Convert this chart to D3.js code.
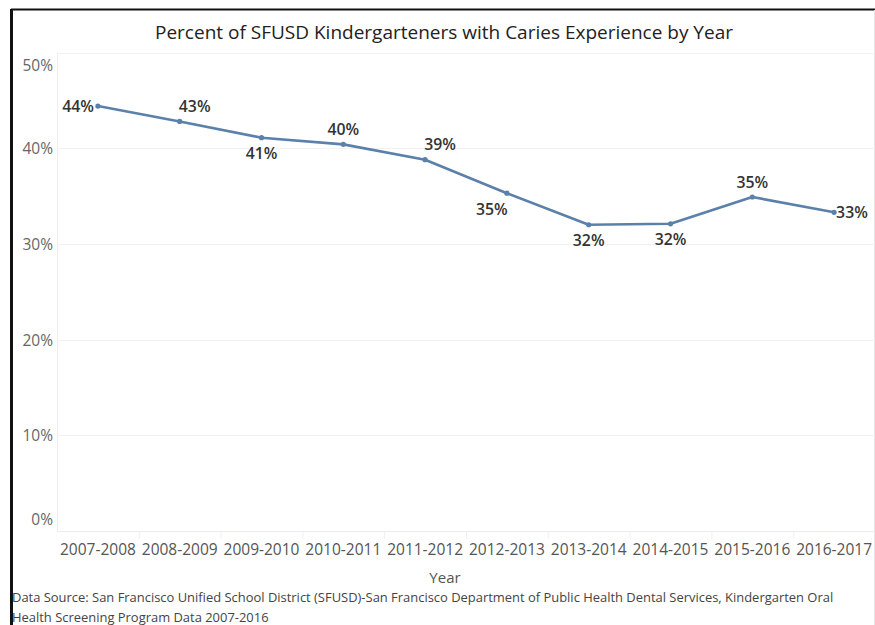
<!DOCTYPE html>
<html>
<head>
<meta charset="utf-8">
<script src="https://cdn.jsdelivr.net/npm/d3@7"></script>
<style>
  html, body { margin: 0; padding: 0; background: #fff; }
  svg { display: block; font-family: "Open Sans", "Noto Sans", sans-serif; }
</style>
</head>
<body>
<svg id="chart" width="875" height="625"></svg>
<script>
// data
const years = ['2007-2008', '2008-2009', '2009-2010', '2010-2011', '2011-2012',
               '2012-2013', '2013-2014', '2014-2015', '2015-2016', '2016-2017'];
const pct = [0.444, 0.428, 0.411, 0.404, 0.388, 0.353, 0.320, 0.321, 0.349, 0.333];
const labelPos = ['left', 'aboveRight', 'below', 'above', 'aboveRight',
                  'belowLeft', 'below', 'below', 'above', 'right'];
const yTicks = [0, 0.1, 0.2, 0.3, 0.4, 0.5];

const titleText = 'Percent of SFUSD Kindergarteners with Caries Experience by Year';
const sourceLines = [
  'Data Source: San Francisco Unified School District (SFUSD)-San Francisco Department of Public Health Dental Services, Kindergarten Oral',
  'Health Screening Program Data 2007-2016'
];

const svg = d3.select('#chart');
const W = 875, H = 625;
const plot = { left: 57, right: 875, top: 52.5, bottom: 531 };

const x = d3.scaleBand().domain(years).range([plot.left, plot.right]).padding(0);
const y = d3.scaleLinear().domain([0, 0.5]).range([plot.bottom, plot.top]);
const cx = d => x(d) + x.bandwidth() / 2;
const fmt = d3.format('.0%');

// frame
svg.append('line').attr('x1', 11).attr('x2', W).attr('y1', 9.5).attr('y2', 9.5)
  .attr('stroke', '#111').attr('stroke-width', 2);
svg.append('line').attr('x1', 11.5).attr('x2', 11.5).attr('y1', 9).attr('y2', H)
  .attr('stroke', '#111').attr('stroke-width', 3);
svg.append('line').attr('x1', 874.5).attr('x2', 874.5).attr('y1', 10).attr('y2', H)
  .attr('stroke', '#e6e6e6').attr('stroke-width', 1);

// title
svg.append('text')
  .attr('x', 444).attr('y', 38.5)
  .attr('text-anchor', 'middle')
  .attr('font-size', 19)
  .attr('fill', '#222')
  .text(titleText);

// gridlines
svg.append('g')
  .selectAll('line')
  .data(yTicks.filter(t => t > 0))
  .join('line')
  .attr('x1', plot.left).attr('x2', plot.right)
  .attr('y1', d => Math.round(y(d)) + 0.5).attr('y2', d => Math.round(y(d)) + 0.5)
  .attr('stroke', '#f2f2f2');

// zero line and left edge
svg.append('line').attr('x1', plot.left).attr('x2', plot.right)
  .attr('y1', plot.bottom + 0.5).attr('y2', plot.bottom + 0.5).attr('stroke', '#ebebeb');
svg.append('line').attr('x1', plot.left + 0.5).attr('x2', plot.left + 0.5)
  .attr('y1', plot.top).attr('y2', plot.bottom).attr('stroke', '#f0f0f0');

// band dividers under the zero line
svg.append('g')
  .selectAll('line')
  .data(years.slice(1))
  .join('line')
  .attr('x1', d => x(d) + 0.5).attr('x2', d => x(d) + 0.5)
  .attr('y1', plot.bottom).attr('y2', plot.bottom + 8)
  .attr('stroke', '#f0f0f0');

// y axis
const yAxis = svg.append('g')
  .attr('transform', `translate(${plot.left - 4},0)`)
  .call(d3.axisLeft(y).tickValues(yTicks).tickFormat(fmt).tickSize(0).tickPadding(0));
yAxis.select('.domain').remove();
yAxis.selectAll('text')
  .attr('font-family', '"Open Sans", sans-serif')
  .attr('font-size', 15.5)
  .attr('fill', '#666')
  .attr('dy', d => d === 0.5 ? '1.15em' : d === 0 ? '-0.4em' : '0.35em');

// x axis
const xAxis = svg.append('g')
  .attr('transform', `translate(0,${plot.bottom})`)
  .call(d3.axisBottom(x).tickSize(0).tickPadding(0));
xAxis.select('.domain').remove();
xAxis.selectAll('text')
  .attr('font-family', '"Open Sans", sans-serif')
  .attr('font-size', 15.5)
  .attr('fill', '#555')
  .attr('dy', '1.55em');

// axis title
svg.append('text')
  .attr('x', 445).attr('y', 583)
  .attr('text-anchor', 'middle')
  .attr('font-size', 15)
  .attr('fill', '#555')
  .text('Year');

// line
const data = years.map((yr, i) => ({ yr, v: pct[i], pos: labelPos[i] }));
svg.append('path')
  .datum(data)
  .attr('fill', 'none')
  .attr('stroke', '#5b80aa')
  .attr('stroke-width', 2.6)
  .attr('stroke-linejoin', 'round')
  .attr('d', d3.line().x(d => cx(d.yr)).y(d => y(d.v)));

svg.append('g')
  .selectAll('circle')
  .data(data)
  .join('circle')
  .attr('cx', d => cx(d.yr)).attr('cy', d => y(d.v))
  .attr('r', 2.6)
  .attr('fill', '#5b80aa');

// value labels
const off = {
  left:       { dx: -4, dy: 0,   anchor: 'end' },
  right:      { dx: 2,  dy: 0,   anchor: 'start' },
  above:      { dx: 0,  dy: -15, anchor: 'middle' },
  below:      { dx: 0,  dy: 16,  anchor: 'middle' },
  aboveRight: { dx: 15, dy: -15, anchor: 'middle' },
  belowLeft:  { dx: -15, dy: 16, anchor: 'middle' }
};
svg.append('g')
  .selectAll('text')
  .data(data)
  .join('text')
  .attr('x', d => cx(d.yr) + off[d.pos].dx)
  .attr('y', d => y(d.v) + off[d.pos].dy)
  .attr('dy', '0.36em')
  .attr('text-anchor', d => off[d.pos].anchor)
  .attr('font-size', 15.8)
  .attr('font-weight', 600)
  .attr('fill', '#333')
  .text(d => Math.round(d.v * 100) + '%');

// source note
svg.append('g')
  .selectAll('text')
  .data(sourceLines)
  .join('text')
  .attr('x', 12).attr('y', (d, i) => 602 + i * 20)
  .attr('font-size', 12.95)
  .attr('fill', '#444')
  .text(d => d);
</script>
</body>
</html>
